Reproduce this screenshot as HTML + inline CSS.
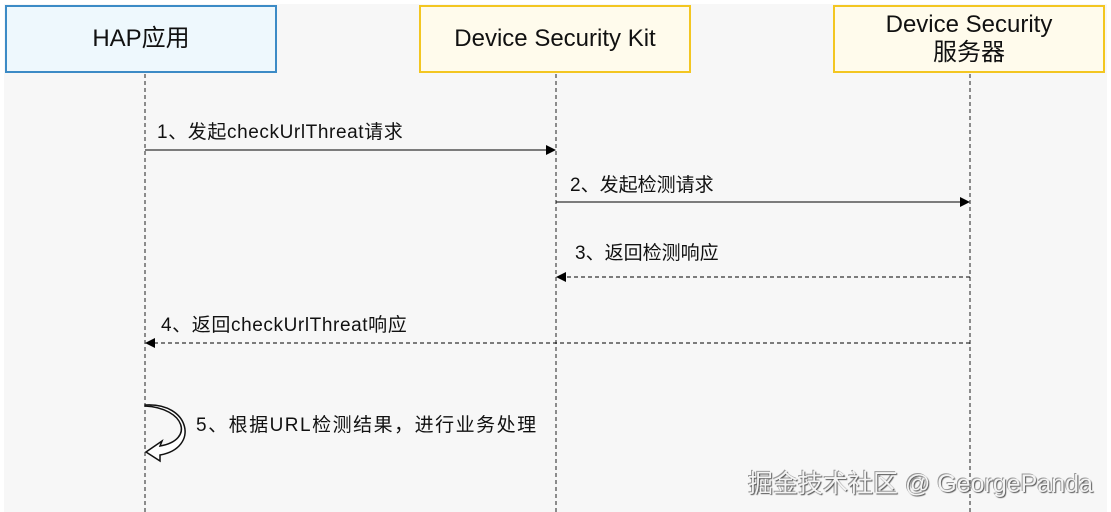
<!DOCTYPE html>
<html><head><meta charset="utf-8"><style>
html,body{margin:0;padding:0;}
body{width:1111px;height:512px;background:#fff;position:relative;overflow:hidden;font-family:"Liberation Sans","Noto Sans CJK SC",sans-serif;}
.bg{position:absolute;left:4px;top:4px;width:1103px;height:508px;background:#f7f7f7;}
.box{position:absolute;box-sizing:border-box;display:flex;align-items:center;justify-content:center;text-align:center;color:#111;font-size:24px;line-height:28px;}
.t{position:absolute;font-size:19px;color:#111;white-space:nowrap;}
</style></head><body>
<div class="bg"></div>
<svg width="1111" height="512" style="position:absolute;left:0;top:0">
<defs><marker id="a" markerWidth="10" markerHeight="10" refX="9" refY="5" orient="auto" markerUnits="userSpaceOnUse"><path d="M0,0 L10,5 L0,10z" fill="#000"/></marker></defs>
<g stroke="#222" stroke-width="1" stroke-dasharray="4,3">
<line x1="145" y1="74" x2="145" y2="512"/>
<line x1="556" y1="74" x2="556" y2="512"/>
<line x1="970" y1="74" x2="970" y2="512"/>
</g>
<line x1="145" y1="150" x2="555" y2="150" stroke="#000" marker-end="url(#a)"/>
<line x1="556" y1="202" x2="969" y2="202" stroke="#000" marker-end="url(#a)"/>
<line x1="970" y1="277" x2="557" y2="277" stroke="#000" stroke-dasharray="4,3" marker-end="url(#a)"/>
<line x1="970" y1="343" x2="146" y2="343" stroke="#000" stroke-dasharray="4,3" marker-end="url(#a)"/>
<path d="M145,406 C185,408 195,440 160,446 L162,441 L146,452 L160,461 L160,455 C200,448 190,402 145,405 Z" fill="#fff" stroke="#111" stroke-width="1.5"/>
</svg>
<div class="box" style="left:5px;top:5px;width:272px;height:68px;background:#eef8fd;border:2px solid #3c8bc6;">HAP应用</div>
<div class="box" style="left:419px;top:5px;width:272px;height:68px;background:#fffbec;border:2px solid #f3c621;">Device Security Kit</div>
<div class="box" style="left:833px;top:5px;width:272px;height:68px;background:#fffbec;border:2px solid #f3c621;">Device Security<br>服务器</div>
<div class="t" style="left:157px;top:117px;letter-spacing:0.6px;">1、发起checkUrlThreat请求</div>
<div class="t" style="left:570px;top:170px;">2、发起检测请求</div>
<div class="t" style="left:575px;top:238px;">3、返回检测响应</div>
<div class="t" style="left:161px;top:310px;letter-spacing:0.6px;">4、返回checkUrlThreat响应</div>
<div class="t" style="left:196px;top:410px;letter-spacing:1.5px;">5、根据URL检测结果，进行业务处理</div>
<div class="t" style="left:748px;top:464px;font-size:25px;color:#f4f4f4;text-shadow:1px 1px 1px #555,-1px -1px 0 #999;">掘金技术社区 @ GeorgePanda</div>
</body></html>
